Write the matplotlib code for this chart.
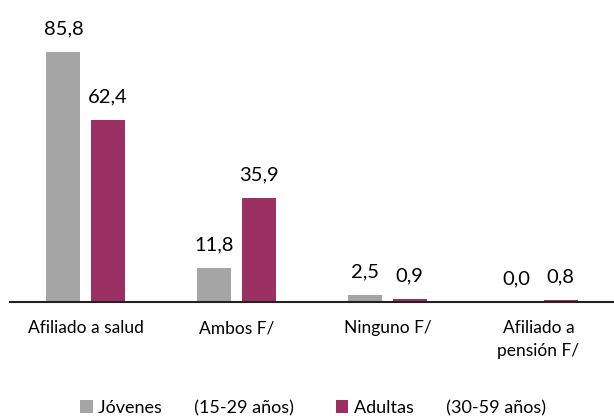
import numpy as np
import matplotlib.pyplot as plt

plt.rcParams['font.family'] = ['Lato', 'DejaVu Sans']

categorias = ["Afiliado a salud", "Ambos F/", "Ninguno F/", "Afiliado a\npensión F/"]
jovenes = [85.8, 11.8, 2.5, 0.0]
adultas = [62.4, 35.9, 0.9, 0.8]
series = ["Jóvenes       (15-29 años)", "Adultas       (30-59 años)"]
colores = ["#A5A5A5", "#9B3163"]

fig = plt.figure(figsize=(6.14, 4.16), dpi=100)
ax = fig.add_axes([10 / 614, 114 / 416, 604 / 614, 291 / 416])

x = np.arange(len(categorias))
w = 0.225
off = 0.146
for vals, dx, col, lab in zip([jovenes, adultas], [-off, off], colores, series):
    bars = ax.bar(x + dx, vals, w, color=col, label=lab)
    for b, v in zip(bars, vals):
        ax.text(b.get_x() + b.get_width() / 2, v + 5, f"{v:.1f}".replace(".", ","),
                ha="center", va="bottom", fontsize=14.5)

ax.set_xlim(-0.5, len(categorias) - 0.5)
ax.set_ylim(0, 100)
ax.set_yticks([])
ax.set_xticks(x)
ax.set_xticklabels(categorias, fontsize=12.5, linespacing=1.5)
ax.tick_params(axis="x", length=0, pad=13)
for s in ["top", "right", "left"]:
    ax.spines[s].set_visible(False)
ax.spines["bottom"].set_color("#222222")
ax.spines["bottom"].set_linewidth(1.5)

fig.legend(loc="center", bbox_to_anchor=(0.51, 8 / 416), ncol=2, frameon=False,
           fontsize=13, handlelength=0.7, handleheight=0.7, handletextpad=0.3,
           columnspacing=2.3)

fig.savefig("out.png", dpi=100)
